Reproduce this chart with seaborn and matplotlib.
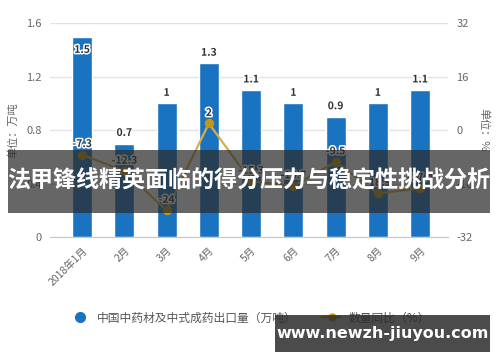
import numpy as np
import pandas as pd
import matplotlib
matplotlib.use("Agg")
import matplotlib.pyplot as plt
import matplotlib.patheffects as pe
from matplotlib.lines import Line2D
from matplotlib.patches import Rectangle
import seaborn as sns

months = ["2018年1月", "2月", "3月", "4月", "5月", "6月", "7月", "8月", "9月"]
export_volume = [1.5, 0.7, 1.0, 1.3, 1.1, 1.0, 0.9, 1.0, 1.1]
yoy_change = [-7.3, -12.3, -24, 2, -15.3, -16.7, -9.5, -18.9, -17.4]
left_ticks = [0, 0.4, 0.8, 1.2, 1.6]
right_ticks = [-32, -16, 0, 16, 32]
series_names = ["中国中药材及中式成药出口量（万吨）", "数量同比（%）"]
banner_title = "法甲锋线精英面临的得分压力与稳定性挑战分析"
watermark_url = "www.newzh-jiuyou.com"

sns.set_style("white")
plt.rcParams['font.family'] = ['Noto Sans CJK SC', 'DejaVu Sans']
plt.rcParams['axes.unicode_minus'] = False

BAR = "#1a73c0"
LINE = "#d9ad45"
MARK = "#c8960f"
TICK = "#666666"

fig = plt.figure(figsize=(5, 3.62), dpi=100)
ax = fig.add_axes([0.1, 0.345, 0.796, 0.591])

df = pd.DataFrame({"month": months, "vol": export_volume, "yoy": yoy_change})
sns.barplot(data=df, x="month", y="vol", color=BAR, width=0.47, ax=ax,
            saturation=1, zorder=2)
ax.set_ylim(0, 1.6)
ax.set_xlim(-0.76, 8.66)
ax.set_yticks(left_ticks)
ax.set_yticklabels([f"{t:g}" for t in left_ticks], fontsize=8, color=TICK)
ax.grid(axis="y", color="#e3e3e3", linewidth=1, zorder=0)
ax.set_axisbelow(True)
ax.set_xlabel("")
ax.set_ylabel("单位：万吨", fontsize=8, color=TICK, labelpad=6)
for s in ["top", "right", "left"]:
    ax.spines[s].set_visible(False)
ax.spines["bottom"].set_color("#c8c8c8")
ax.tick_params(axis="x", length=4, color="#c8c8c8", pad=2)
ax.tick_params(axis="y", length=0, pad=6)
ax.set_xticks(range(len(months)))
ax.set_xticklabels(months, rotation=45, ha="right", rotation_mode="anchor",
                   fontsize=7.5, color=TICK)

halo = [pe.withStroke(linewidth=2.2, foreground="white")]
for i, v in enumerate(export_volume):
    if v > 1.4:
        ax.annotate(f"{v:g}", (i, v), xytext=(0, -6), textcoords="offset points",
                    ha="center", va="top", fontsize=7.5, fontweight="bold",
                    color="#333333", path_effects=halo, zorder=5)
    else:
        ax.annotate(f"{v:g}", (i, v), xytext=(0, 4), textcoords="offset points",
                    ha="center", va="bottom", fontsize=7.5, fontweight="bold",
                    color="#333333", path_effects=halo, zorder=5)

ax2 = ax.twinx()
sns.lineplot(x=np.arange(len(months)), y=yoy_change, ax=ax2, color=LINE,
             linewidth=1.6, marker="o", markersize=6, markerfacecolor=MARK,
             markeredgecolor=MARK, zorder=4)
ax2.set_ylim(-32, 32)
ax2.set_xlim(-0.76, 8.66)
ax2.set_yticks(right_ticks)
ax2.set_yticklabels([f"{t:g}" for t in right_ticks], fontsize=8, color=TICK)
ax2.tick_params(axis="y", length=0, pad=6)
for s in ["top", "right", "left", "bottom"]:
    ax2.spines[s].set_visible(False)
ax2.set_ylabel("单位：%", fontsize=8, color=TICK, rotation=270, labelpad=12)
for i, v in enumerate(yoy_change):
    ax2.annotate(f"{v:g}", (i, v), xytext=(0, 4), textcoords="offset points",
                 ha="center", va="bottom", fontsize=7.5, fontweight="bold",
                 color="#333333", path_effects=halo, zorder=6)

handles = [
    Line2D([], [], linestyle="none", marker="o", markersize=7,
           markerfacecolor=BAR, markeredgecolor=BAR),
    Line2D([], [], color=LINE, linewidth=1.6, marker="o", markersize=5,
           markerfacecolor=MARK, markeredgecolor=MARK),
]
fig.legend(handles, series_names, loc="center", bbox_to_anchor=(0.5, 0.122),
           ncol=2, frameon=False, fontsize=8.5, labelcolor="#555555",
           handlelength=1.6, columnspacing=2.2, handletextpad=0.6)

fig.patches.append(Rectangle((0.016, 0.412), 0.964, 0.174, transform=fig.transFigure,
                             facecolor="#2b2b2b", alpha=0.72, zorder=10,
                             edgecolor="none"))
fig.text(0.498, 0.499, banner_title, ha="center", va="center", fontsize=16.6,
         fontweight="bold", color="white", zorder=11)

fig.patches.append(Rectangle((0.55, 0.028), 0.43, 0.102, transform=fig.transFigure,
                             facecolor="#2b2b2b", alpha=0.85, zorder=10,
                             edgecolor="none"))
fig.text(0.765, 0.079, watermark_url, ha="center", va="center", fontsize=11.5,
         fontweight="bold", color="white", family="DejaVu Sans", zorder=11)

fig.savefig("out.png", dpi=100)
